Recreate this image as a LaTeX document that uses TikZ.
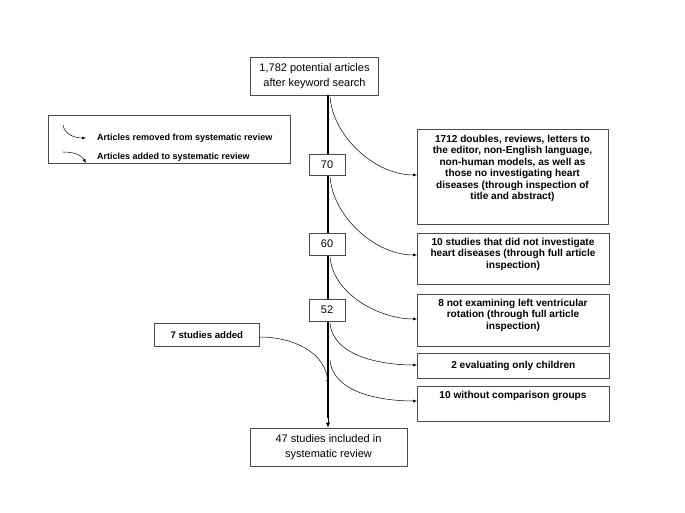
\documentclass[tikz,border=0pt]{standalone}
\usepackage{fontspec}
\setmainfont{Liberation Sans}
\usetikzlibrary{arrows.meta}
\begin{document}
\begin{tikzpicture}[x=1pt,y=-1pt,
  box/.style={draw=black!70,line width=0.6pt,fill=white,inner sep=0pt,align=center},
  frame/.style={draw=black!70,line width=0.6pt,fill=white,inner sep=0pt,anchor=north west},
  rtext/.style={inner sep=0pt,align=center,anchor=north,font=\bfseries\fontsize{10.1}{11.5}\selectfont},
  nbox/.style={box,font=\fontsize{11}{13}\selectfont},
  mbox/.style={box,font=\fontsize{11}{14.5}\selectfont},
  thin/.style={line width=0.5pt,-{Latex[length=4pt,width=3pt]}},
  main/.style={line width=2.6pt}]
\useasboundingbox (0,0) rectangle (685,513);
% main boxes
\node[mbox,minimum width=128pt,minimum height=38pt] (top) at (314.5,76) {1,782 potential articles\\after keyword search};
\node[mbox,minimum width=157pt,minimum height=38pt] (bot) at (328.5,447) {47 studies included in\\systematic review};
% main line
\coordinate (mtop) at (328,95);
\coordinate (mbot) at (328,418);
\draw[main] (top.south -| mtop) -- (mbot);
\draw[line width=0.6pt,-{Latex[length=5pt,width=4pt]}] (328,412) -- (bot.north -| mtop);
% number boxes
\node[nbox,minimum width=36pt,minimum height=21pt] (n70) at (327,164.5) {70};
\node[nbox,minimum width=36pt,minimum height=22pt] (n60) at (327,244) {60};
\node[nbox,minimum width=36pt,minimum height=22pt] (n52) at (327,310) {52};
% right boxes
\node[frame,minimum width=191pt,minimum height=95pt] (r1) at (417,129) {};
\node[rtext] (t1) at (512.5,134.5) {1712 doubles, reviews, letters to\\the editor, non-English language,\\non-human models, as well as\\those no investigating heart\\diseases (through inspection of\\title and abstract)};
\node[frame,minimum width=192pt,minimum height=51pt] (r2) at (417,233) {};
\node[rtext] (t2) at (513,237.5) {10 studies that did not investigate\\heart diseases (through full article\\inspection)};
\node[frame,minimum width=192pt,minimum height=52pt] (r3) at (417,294) {};
\node[rtext] (t3) at (513,298.5) {8 not examining left ventricular\\rotation (through full article\\inspection)};
\node[frame,minimum width=192pt,minimum height=25pt] (r4) at (417,353) {};
\node[rtext,anchor=center] (t4) at (r4.center) {2 evaluating only children};
\node[frame,minimum width=192pt,minimum height=35pt] (r5) at (417,386) {};
\node[rtext] (t5) at (513,390.5) {10 without comparison groups};
\node[frame,minimum width=105pt,minimum height=23pt] (add) at (154,323) {};
\node[rtext,anchor=center,font=\bfseries\fontsize{9.6}{11}\selectfont] (tadd) at (add.center) {7 studies added};
% removal curves
\coordinate (c1) at (330,97);
\coordinate (c2) at (330,177);
\coordinate (c3) at (330,257);
\coordinate (c4) at (330,323);
\coordinate (c5) at (330,360);
\coordinate (j) at (328,384);
\draw[thin] (c1) to[out=-85,in=180,looseness=0.9] (r1.west |- 0,175);
\draw[thin] (c2) to[out=-85,in=180,looseness=0.9] (r2.west |- 0,255);
\draw[thin] (c3) to[out=-85,in=180,looseness=0.9] (r3.west |- 0,319);
\draw[thin] (c4) to[out=-85,in=180,looseness=0.9] (r4.west |- 0,365);
\draw[thin] (c5) to[out=-85,in=180,looseness=0.9] (r5.west |- 0,401);
\draw[thin] (add.east |- 0,337) to[out=0,in=95,looseness=1] (j);
% legend
\node[frame,minimum width=242pt,minimum height=48pt] (leg) at (48,115) {};
\coordinate (l1a) at (63,125);
\coordinate (l1b) at (86,138);
\coordinate (l2a) at (63,152);
\coordinate (l2b) at (86,163);
\draw[thin] (l1a) to[out=-80,in=180] (l1b);
\draw[thin] (l2a) to[out=0,in=120] (l2b);
\node[font=\bfseries\fontsize{9}{10}\selectfont,anchor=west,inner sep=0pt] (lt1) at (97,138) {Articles removed from systematic review};
\node[font=\bfseries\fontsize{9}{10}\selectfont,anchor=west,inner sep=0pt] (lt2) at (97,157) {Articles added to systematic review};
\end{tikzpicture}
\end{document}
